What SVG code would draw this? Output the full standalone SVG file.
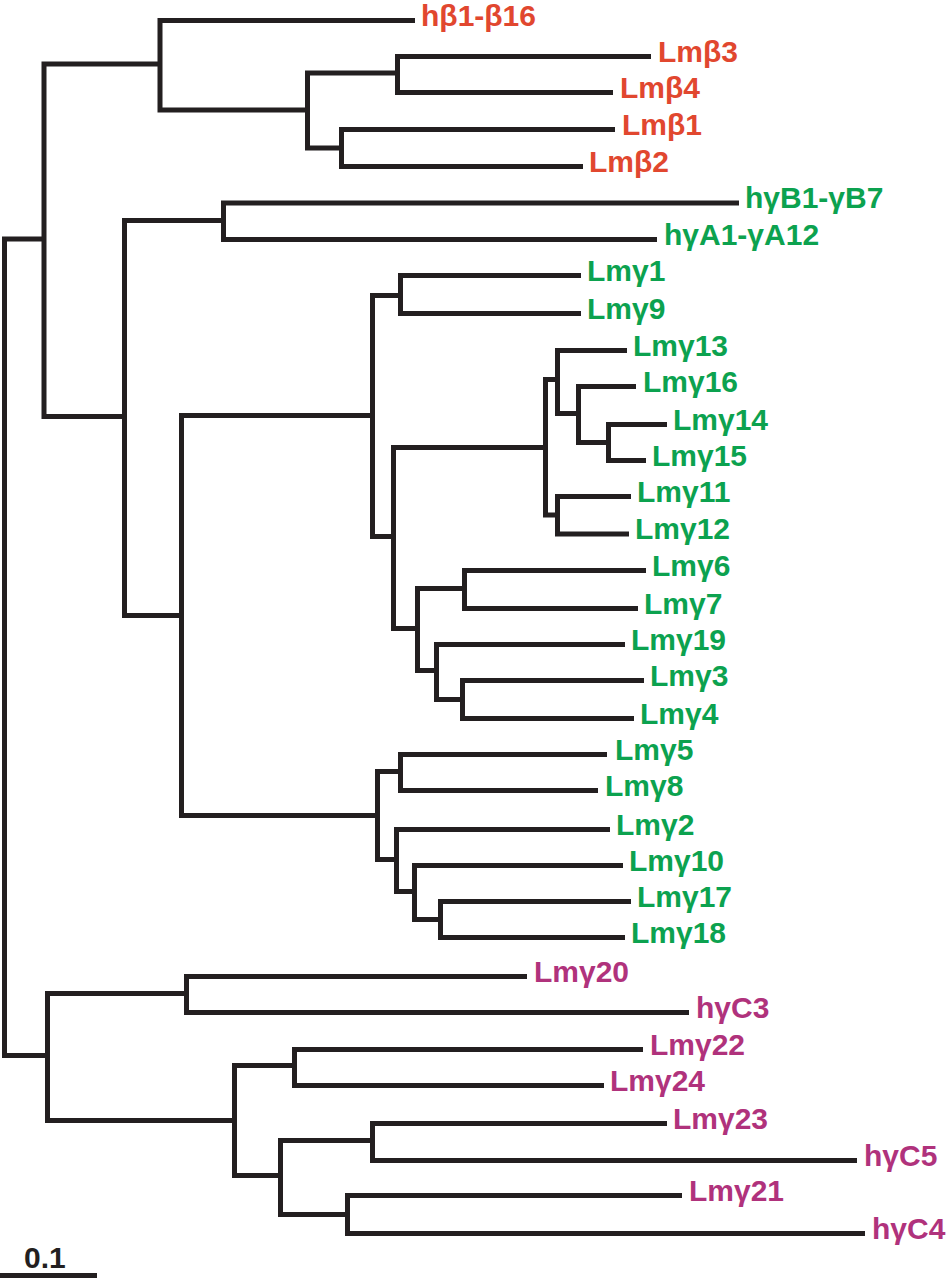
<svg xmlns="http://www.w3.org/2000/svg" width="948" height="1280" viewBox="0 0 948 1280">
<style>
.e{fill:none;stroke:#231F20;stroke-width:5;stroke-linecap:butt;stroke-linejoin:miter}
text{font-family:"Liberation Sans",Arial,sans-serif;font-weight:bold;font-size:30px}
.r{fill:#E1472F}.g{fill:#0CA24F}.m{fill:#B0327C}.k{fill:#231F20}
</style>
<rect width="948" height="1280" fill="#fff"/>
<g id="connectors">
<path class="e" d="M44 239 H4.5 V1055.5 H47.5"/>
<path class="e" d="M160 64 H44 V416.5 H124.5"/>
<path class="e" d="M415 20.5 H160 V110 H307.5"/>
<path class="e" d="M397.5 73 H307.5 V148 H341.5"/>
<path class="e" d="M651 56.5 H397.5 V92.5 H613"/>
<path class="e" d="M615 129.5 H341.5 V166.5 H583"/>
<path class="e" d="M223.5 220.5 H124.5 V615.5 H181.5"/>
<path class="e" d="M739 203 H223.5 V239.5 H657"/>
<path class="e" d="M372.5 415.5 H181.5 V815.5 H377.5"/>
<path class="e" d="M400.5 295.5 H372.5 V536.5 H393.5"/>
<path class="e" d="M581 275.5 H400.5 V313.5 H581"/>
<path class="e" d="M545.5 447.5 H393.5 V628.5 H417.5"/>
<path class="e" d="M557.5 379.5 H545.5 V515 H557.5"/>
<path class="e" d="M627 350.5 H557.5 V413.5 H578.5"/>
<path class="e" d="M636 386.5 H578.5 V442.5 H608.5"/>
<path class="e" d="M667 424.5 H608.5 V460.5 H646"/>
<path class="e" d="M631 496.5 H557.5 V534 H629"/>
<path class="e" d="M464.5 588.5 H417.5 V670.5 H436.5"/>
<path class="e" d="M646 570.5 H464.5 V608.5 H638"/>
<path class="e" d="M625 644.5 H436.5 V699.5 H462.5"/>
<path class="e" d="M644 680.5 H462.5 V718.5 H634"/>
<path class="e" d="M400.5 771.5 H377.5 V859.5 H396.5"/>
<path class="e" d="M607 754.5 H400.5 V790.5 H598"/>
<path class="e" d="M610 829.5 H396.5 V891.5 H414.5"/>
<path class="e" d="M623 865.5 H414.5 V919.5 H440.5"/>
<path class="e" d="M631 901.5 H440.5 V937.5 H625"/>
<path class="e" d="M186.5 993.5 H47.5 V1120.5 H234.5"/>
<path class="e" d="M527 976.5 H186.5 V1012.5 H689"/>
<path class="e" d="M294.5 1065.5 H234.5 V1175.5 H280.5"/>
<path class="e" d="M643 1049.5 H294.5 V1085.5 H604"/>
<path class="e" d="M372.5 1140.5 H280.5 V1214.5 H347.5"/>
<path class="e" d="M667 1123.5 H372.5 V1160.5 H857"/>
<path class="e" d="M682 1195.5 H347.5 V1233.5 H865"/>
</g>
<g id="leaf-hb1-b16"><text class="r" x="421" y="25.5">hβ1-β16</text></g>
<g id="leaf-Lmb3"><text class="r" x="658" y="61.5">Lmβ3</text></g>
<g id="leaf-Lmb4"><text class="r" x="620" y="97.5">Lmβ4</text></g>
<g id="leaf-Lmb1"><text class="r" x="622" y="134.5">Lmβ1</text></g>
<g id="leaf-Lmb2"><text class="r" x="589" y="171.5">Lmβ2</text></g>
<g id="leaf-hgB"><text class="g" x="745" y="208">hγB1-γB7</text></g>
<g id="leaf-hgA"><text class="g" x="664" y="244.5">hγA1-γA12</text></g>
<g id="leaf-Lmg1"><text class="g" x="587" y="280.5">Lmγ1</text></g>
<g id="leaf-Lmg9"><text class="g" x="587" y="318.5">Lmγ9</text></g>
<g id="leaf-Lmg13"><text class="g" x="633" y="355.5">Lmγ13</text></g>
<g id="leaf-Lmg16"><text class="g" x="643" y="391.5">Lmγ16</text></g>
<g id="leaf-Lmg14"><text class="g" x="673" y="429.5">Lmγ14</text></g>
<g id="leaf-Lmg15"><text class="g" x="652" y="465.5">Lmγ15</text></g>
<g id="leaf-Lmg11"><text class="g" x="637" y="501.5">Lmγ11</text></g>
<g id="leaf-Lmg12"><text class="g" x="635" y="539">Lmγ12</text></g>
<g id="leaf-Lmg6"><text class="g" x="652" y="575.5">Lmγ6</text></g>
<g id="leaf-Lmg7"><text class="g" x="644" y="613.5">Lmγ7</text></g>
<g id="leaf-Lmg19"><text class="g" x="631" y="649.5">Lmγ19</text></g>
<g id="leaf-Lmg3"><text class="g" x="650" y="685.5">Lmγ3</text></g>
<g id="leaf-Lmg4"><text class="g" x="640" y="723.5">Lmγ4</text></g>
<g id="leaf-Lmg5"><text class="g" x="615" y="759.5">Lmγ5</text></g>
<g id="leaf-Lmg8"><text class="g" x="605" y="795.5">Lmγ8</text></g>
<g id="leaf-Lmg2"><text class="g" x="616" y="834.5">Lmγ2</text></g>
<g id="leaf-Lmg10"><text class="g" x="629" y="870.5">Lmγ10</text></g>
<g id="leaf-Lmg17"><text class="g" x="637" y="906.5">Lmγ17</text></g>
<g id="leaf-Lmg18"><text class="g" x="631" y="942.5">Lmγ18</text></g>
<g id="leaf-Lmg20"><text class="m" x="534" y="981.5">Lmγ20</text></g>
<g id="leaf-hgC3"><text class="m" x="696" y="1017.5">hγC3</text></g>
<g id="leaf-Lmg22"><text class="m" x="650" y="1054.5">Lmγ22</text></g>
<g id="leaf-Lmg24"><text class="m" x="610" y="1090.5">Lmγ24</text></g>
<g id="leaf-Lmg23"><text class="m" x="673" y="1128.5">Lmγ23</text></g>
<g id="leaf-hgC5"><text class="m" x="864" y="1165.5">hγC5</text></g>
<g id="leaf-Lmg21"><text class="m" x="689" y="1200.5">Lmγ21</text></g>
<g id="leaf-hgC4"><text class="m" x="872" y="1238.5">hγC4</text></g>
<g id="scale-bar">
<path class="e" d="M0 1275.5 H97"/>
<text class="k" x="24" y="1268">0.1</text>
</g>
</svg>
